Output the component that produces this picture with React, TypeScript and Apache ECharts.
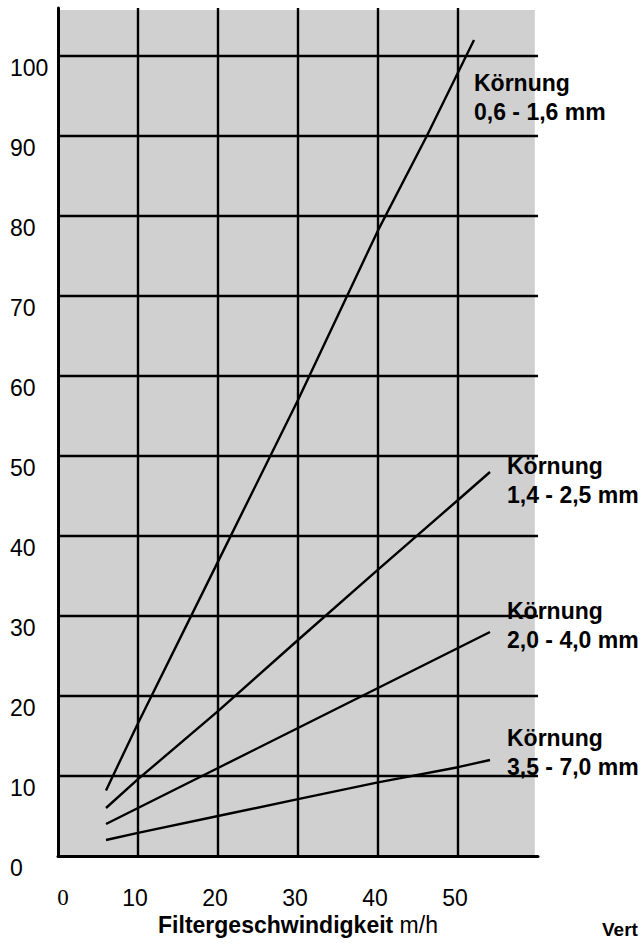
import React, { useEffect, useRef } from "react";
import * as echarts from "echarts";

// ---- data ----
const xTicks = [10, 20, 30, 40, 50];
const yTicks = [10, 20, 30, 40, 50, 60, 70, 80, 90, 100];

const line06_16: [number, number][] = [[6, 8.2], [10, 16.6], [20, 36.8], [30, 57], [40, 78.2], [46.1, 90], [52, 102]];
const line14_25: [number, number][] = [[6, 6], [10, 9.6], [20, 18.1], [30, 27], [40, 35.8], [50, 44.5], [54, 48]];
const line20_40: [number, number][] = [[6, 4], [10, 6], [20, 11], [30, 16], [40, 21], [50, 26], [54, 28]];
const line35_70: [number, number][] = [[6, 2], [10, 2.9], [20, 5], [30, 7.1], [40, 9.2], [50, 11.1], [54, 12]];

const curveLabels = [
  "Körnung\n0,6 - 1,6 mm",
  "Körnung\n1,4 - 2,5 mm",
  "Körnung\n2,0 - 4,0 mm",
  "Körnung\n3,5 - 7,0 mm",
];
const xAxisTitleBold = "Filtergeschwindigkeit";
const xAxisTitleUnit = "m/h";
const cornerText = "Vert";

const FONT = '"Liberation Sans", Arial, sans-serif';

export default function App() {
  const ref = useRef<HTMLDivElement>(null);
  useEffect(() => {
    document.body.style.margin = "0";
    const chart = echarts.init(ref.current!, null, { renderer: "svg" });
    const lineStyle = { color: "#000", width: 2.4 };
    const mkLine = (data: [number, number][]) => ({
      type: "line",
      data,
      showSymbol: false,
      symbol: "none",
      lineStyle,
      z: 5,
      silent: true,
    });
    const labelPos = [
      [474, 68],
      [507, 451],
      [507, 596],
      [507, 723],
    ];
    chart.setOption({
      animation: false,
      grid: { left: 58, top: 8, width: 480, height: 848 },
      xAxis: {
        type: "value",
        min: 0,
        max: 60,
        interval: 10,
        z: 10,
        axisLine: { show: true, lineStyle: { color: "#000", width: 3 } },
        axisTick: { show: false },
        splitLine: { show: false },
        axisLabel: {
          showMaxLabel: false,
          margin: 30,
          color: "#000",
          fontSize: 23,
          fontFamily: FONT,
          formatter: (v: number) => (v === 0 ? "{s|0}" : "{n|" + v + "}"),
          rich: {
            s: { fontFamily: '"Liberation Serif", "Times New Roman", serif', fontSize: 23, color: "#000", padding: [0, 0, 0, 10] },
            n: { fontFamily: FONT, fontSize: 23, color: "#000", padding: [0, 6, 0, 0] },
          },
        },
        name: "{b|" + xAxisTitleBold + "}{r| " + xAxisTitleUnit + "}",
        nameLocation: "middle",
        nameGap: 55,
        nameTextStyle: {
          rich: {
            b: { fontFamily: FONT, fontSize: 23, fontWeight: "bold", color: "#000" },
            r: { fontFamily: FONT, fontSize: 23, color: "#000" },
          },
        },
      },
      yAxis: {
        type: "value",
        min: 0,
        max: 106,
        interval: 10,
        z: 10,
        axisLine: { show: true, lineStyle: { color: "#000", width: 3 } },
        axisTick: { show: false },
        splitLine: { show: false },
        axisLabel: {
          showMaxLabel: false,
          align: "left",
          verticalAlign: "top",
          margin: 48,
          color: "#000",
          fontSize: 23,
          fontFamily: FONT,
        },
      },
      series: [
        {
          type: "line",
          data: [],
          z: 1,
          silent: true,
          markArea: {
            silent: true,
            itemStyle: { color: "#d0d0d0" },
            data: [[{ coord: [0, 0] }, { coord: [59.6, 105.75] }]],
          },
        },
        {
          type: "line",
          data: [],
          z: 2,
          silent: true,
          markLine: {
            silent: true,
            symbol: ["none", "none"],
            label: { show: false },
            lineStyle: { color: "#000", width: 2.4, type: "solid" },
            data: [
              ...xTicks.map((v) => ({ xAxis: v })),
              ...yTicks.map((v) => ({ yAxis: v })),
            ],
          },
        },
        mkLine(line06_16),
        mkLine(line14_25),
        mkLine(line20_40),
        mkLine(line35_70),
      ],
      graphic: [
        ...curveLabels.map((t, i) => ({
          type: "text",
          x: labelPos[i][0],
          y: labelPos[i][1],
          z: 20,
          style: {
            text: t,
            font: 'bold 23px "Liberation Sans", Arial, sans-serif',
            fill: "#000",
            lineHeight: 29,
            verticalAlign: "top",
          },
        })),
        {
          type: "text",
          x: 602,
          y: 920,
          z: 20,
          style: {
            text: cornerText,
            font: 'bold 19px "Liberation Sans", Arial, sans-serif',
            fill: "#000",
            verticalAlign: "top",
          },
        },
      ],
    });
    return () => chart.dispose();
  }, []);
  return <div ref={ref} style={{ width: 644, height: 944 }} />;
}
